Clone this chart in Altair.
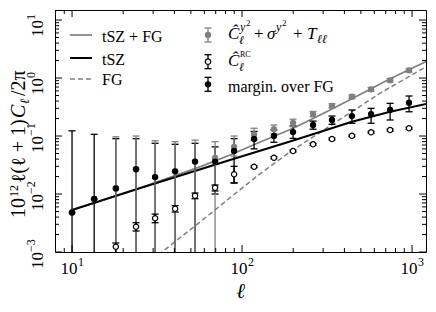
import altair as alt
import pandas as pd

FONT = "Liberation Serif"
W, H = 371, 242

# ---------------- data ----------------
ell = [10, 13.5, 18.1, 23.8, 30.8, 40.4, 52.9, 69.4, 89.8, 117.7, 154, 199.5,
       261.6, 338, 443, 574, 743, 960]

# margin. over FG (black filled)
marg = [0.0048, 0.0082, 0.0125, 0.0267, 0.0196, 0.0246, 0.0363, 0.0363, 0.0552,
        0.0888, 0.100, 0.117, 0.155, 0.189, 0.221, 0.239, 0.281, 0.375]
marg_lo = [1e-4, 1e-4, 1e-4, 1e-4, 1e-4, 1e-4, 1e-4, 0.010, 0.0155,
           0.060, 0.078, 0.091, 0.131, 0.159, 0.166, 0.166, 0.189, 0.262]
marg_hi = [0.123, 0.107, 0.090, 0.090, 0.075, 0.072, 0.075, 0.065, 0.090,
           0.120, 0.128, 0.149, 0.181, 0.221, 0.281, 0.300, 0.366, 0.490]

# C^y2 + sigma + T (gray filled)
tot = [0.0048, 0.0082, 0.0125, 0.0267, 0.0196, 0.0246, 0.0363, 0.0418, 0.065,
       0.107, 0.131, 0.169, 0.239, 0.332, 0.476, 0.638, 0.913, 1.358]
tot_lo = [0.0048, 0.0082, 1e-4, 1e-4, 1e-4, 1e-4, 1e-4, 1e-4, 0.045,
          0.085, 0.110, 0.145, 0.215, 0.305, 0.440, 0.590, 0.850, 1.260]
tot_hi = [0.0048, 0.0082, 0.097, 0.100, 0.083, 0.080, 0.085, 0.080, 0.100,
          0.136, 0.155, 0.195, 0.265, 0.360, 0.510, 0.690, 0.980, 1.460]

# C^RC (open circles)
ell_rc = [18.1, 23.8, 30.8, 40.4, 52.9, 69.4, 89.8, 117.7, 154, 199.5,
          261.6, 338, 443, 574, 743, 960]
rc = [0.00123, 0.00273, 0.00381, 0.00558, 0.00935, 0.0128, 0.0219, 0.0296,
      0.0423, 0.0552, 0.0719, 0.0888, 0.101, 0.116, 0.127, 0.136]
rc_lo = [0.00095, 0.0023, 0.0032, 0.0049, 0.0083, 0.0113, 0.0155, 0.0285,
         0.0407, 0.0531, 0.0692, 0.0855, 0.0973, 0.112, 0.122, 0.131]
rc_hi = [0.00143, 0.0032, 0.0045, 0.0063, 0.0104, 0.0143, 0.030, 0.0307,
         0.0440, 0.0573, 0.0747, 0.0922, 0.105, 0.120, 0.132, 0.141]

# model curves
ell_tsz = [10, 25, 85, 200, 443, 743, 1210]
tsz = [0.0053, 0.0126, 0.0386, 0.0836, 0.176, 0.262, 0.356]
ell_totm = [10, 25, 57, 85, 127, 200, 300, 443, 743, 1210]
totm = [0.0053, 0.0127, 0.0297, 0.0471, 0.0778, 0.136, 0.245, 0.44, 0.975, 1.92]
ell_fg = [25, 33.8, 56.6, 84.6, 127, 191, 329, 650, 1210]
fg = [0.00049, 0.001, 0.00329, 0.00853, 0.0221, 0.053, 0.149, 0.551, 1.57]

# axis ticks
x_major = [10, 100, 1000]
x_major_exp = ["1", "2", "3"]
x_minor = [8, 9, 20, 30, 40, 50, 60, 70, 80, 90, 200, 300, 400, 500, 600, 700, 800, 900]
y_major = [0.001, 0.01, 0.1, 1, 10]
y_major_exp = ["\u22123", "\u22122", "\u22121", "0", "1"]
y_minor = [0.002, 0.003, 0.004, 0.005, 0.006, 0.007, 0.008, 0.009,
           0.02, 0.03, 0.04, 0.05, 0.06, 0.07, 0.08, 0.09,
           0.2, 0.3, 0.4, 0.5, 0.6, 0.7, 0.8, 0.9,
           2, 3, 4, 5, 6, 7, 8, 9]

GRAY = "#808080"

xs = alt.Scale(type="log", domain=[7.94, 1208], nice=False)
ys = alt.Scale(type="log", domain=[1e-3, 14.9], nice=False)


def X(f="ell"):
    return alt.X(f, type="quantitative", scale=xs, axis=None)


def Y(f="v"):
    return alt.Y(f, type="quantitative", scale=ys, axis=None)


def line(xl, yl, color, width, dash=None):
    df = pd.DataFrame({"ell": xl, "v": yl})
    kw = dict(color=color, strokeWidth=width, clip=True)
    if dash:
        kw["strokeDash"] = dash
    return alt.Chart(df).mark_line(**kw).encode(x=X(), y=Y())


def errbars(xl, lo, hi, color):
    df = pd.DataFrame({"ell": xl, "lo": lo, "hi": hi})
    base = alt.Chart(df)
    r = base.mark_rule(color=color, strokeWidth=1.3, clip=True).encode(
        x=X(), y=Y("lo"), y2=alt.Y2("hi"))
    c1 = base.mark_tick(orient="horizontal", size=7, thickness=1.3, color=color,
                        clip=True, opacity=1).encode(x=X(), y=Y("hi"))
    c2 = base.mark_tick(orient="horizontal", size=7, thickness=1.3, color=color,
                        clip=True, opacity=1).encode(x=X(), y=Y("lo"))
    return [r, c1, c2]


def label(txt, x, y, size=16, style="normal", align="left",
          baseline="alphabetic", angle=0, color="black"):
    kw = dict(font=FONT, fontSize=size, fontStyle=style, align=align,
              baseline=baseline, color=color)
    if angle:
        kw["angle"] = angle
    return alt.Chart(pd.DataFrame({"t": [txt]})).mark_text(**kw).encode(
        x=alt.value(x), y=alt.value(y), text="t:N")


layers = []

# model lines
layers.append(line(ell_totm, totm, GRAY, 1.7))
layers.append(line(ell_fg, fg, GRAY, 1.5, [5, 3]))
layers.append(line(ell_tsz, tsz, "black", 2))

# black error bars (under gray)
layers += errbars(ell, marg_lo, marg_hi, "black")
# gray series
layers += errbars(ell, tot_lo, tot_hi, GRAY)
layers.append(alt.Chart(pd.DataFrame({"ell": ell, "v": tot})).mark_circle(
    size=40, color=GRAY, opacity=1, clip=True).encode(x=X(), y=Y()))
# RC open circles
layers += errbars(ell_rc, rc_lo, rc_hi, "black")
layers.append(alt.Chart(pd.DataFrame({"ell": ell_rc, "v": rc})).mark_point(
    shape="circle", size=28, fill="white", filled=True, stroke="black",
    strokeWidth=1.2, opacity=1, clip=True).encode(x=X(), y=Y()))
# black points
layers.append(alt.Chart(pd.DataFrame({"ell": ell, "v": marg})).mark_circle(
    size=40, color="black", opacity=1, clip=True).encode(x=X(), y=Y()))

# ticks (inward, all four sides)
dfxM = pd.DataFrame({"ell": x_major})
dfxm = pd.DataFrame({"ell": x_minor})
dfyM = pd.DataFrame({"v": y_major})
dfym = pd.DataFrame({"v": y_minor})
for df, L in [(dfxM, 7), (dfxm, 4)]:
    layers.append(alt.Chart(df).mark_rule(color="black", strokeWidth=1).encode(
        x=X(), y=alt.value(H), y2=alt.value(H - L)))
    layers.append(alt.Chart(df).mark_rule(color="black", strokeWidth=1).encode(
        x=X(), y=alt.value(0), y2=alt.value(L)))
for df, L in [(dfyM, 7), (dfym, 4)]:
    layers.append(alt.Chart(df).mark_rule(color="black", strokeWidth=1).encode(
        y=Y(), x=alt.value(0), x2=alt.value(L)))
    layers.append(alt.Chart(df).mark_rule(color="black", strokeWidth=1).encode(
        y=Y(), x=alt.value(W), x2=alt.value(W - L)))

# tick labels
dfxl = pd.DataFrame({"ell": x_major, "b": ["10"] * 3, "e": x_major_exp})
layers.append(alt.Chart(dfxl).mark_text(font=FONT, fontSize=17, align="center",
                                        dx=-3, baseline="alphabetic").encode(
    x=X(), y=alt.value(H + 22), text="b:N"))
layers.append(alt.Chart(dfxl).mark_text(font=FONT, fontSize=12, align="left",
                                        dx=6, baseline="alphabetic").encode(
    x=X(), y=alt.value(H + 14), text="e:N"))
dfyl = pd.DataFrame({"v": y_major, "b": ["10"] * 5, "e": y_major_exp})
layers.append(alt.Chart(dfyl).mark_text(font=FONT, fontSize=17, align="right",
                                        angle=270, baseline="alphabetic").encode(
    y=Y(), x=alt.value(-12), text="b:N"))
layers.append(alt.Chart(dfyl).mark_text(font=FONT, fontSize=12, align="left",
                                        angle=270, baseline="alphabetic").encode(
    y=Y(), x=alt.value(-20), text="e:N"))

# axis titles
layers.append(label("\u2113", W / 2, 288, size=21, style="italic", align="center"))
# y title pieces, rotated, reading upwards
TX = -30
TS = 20
layers.append(label("10", TX, 208, TS, angle=270))
layers.append(label("12", TX - 7, 187, 12, angle=270))
layers.append(label("\u2113(\u2113 + 1)", TX, 173, TS, angle=270))
layers.append(label("C", TX, 108, TS, style="italic", angle=270))
layers.append(label("\u2113", TX + 4, 94, 13, style="italic", angle=270))
layers.append(label("/2\u03c0", TX, 86, TS, angle=270))

# legend: left column
layers.append(alt.Chart(pd.DataFrame({"a": [0]})).mark_rule(color=GRAY, strokeWidth=1.7).encode(
    x=alt.value(15), x2=alt.value(37), y=alt.value(25)))
layers.append(alt.Chart(pd.DataFrame({"a": [0]})).mark_rule(color="black", strokeWidth=2).encode(
    x=alt.value(15), x2=alt.value(37), y=alt.value(48)))
layers.append(alt.Chart(pd.DataFrame({"a": [0]})).mark_rule(color=GRAY, strokeWidth=1.5, strokeDash=[5, 3]).encode(
    x=alt.value(15), x2=alt.value(37), y=alt.value(69)))
layers.append(label("tSZ + FG", 47, 32))
layers.append(label("tSZ", 47, 55))
layers.append(label("FG", 47, 75))

# legend: right column markers
def leg_marker(y, color, fill, stroke):
    d = pd.DataFrame({"a": [0]})
    out = [
        alt.Chart(d).mark_rule(color=color, strokeWidth=1.3).encode(
            x=alt.value(153), y=alt.value(y - 7), y2=alt.value(y + 7)),
        alt.Chart(d).mark_rule(color=color, strokeWidth=1.3).encode(
            x=alt.value(149.5), x2=alt.value(156.5), y=alt.value(y - 7)),
        alt.Chart(d).mark_rule(color=color, strokeWidth=1.3).encode(
            x=alt.value(149.5), x2=alt.value(156.5), y=alt.value(y + 7)),
        alt.Chart(d).mark_point(shape="circle", size=30 if fill == "white" else 40,
                                filled=True, fill=fill, stroke=stroke,
                                strokeWidth=1.2 if fill == "white" else 0,
                                opacity=1).encode(x=alt.value(153), y=alt.value(y)),
    ]
    return out


layers += leg_marker(25, GRAY, GRAY, GRAY)
layers += leg_marker(51.7, "black", "white", "black")
layers += leg_marker(74.3, "black", "black", "black")

# legend: right column texts
layers.append(label("\u0108", 173, 29, 17, style="italic"))
layers.append(label("y", 185, 21, 12, style="italic"))
layers.append(label("2", 191, 16, 9))
layers.append(label("\u2113", 184, 34, 12, style="italic"))
layers.append(label("+", 199, 29, 17))
layers.append(label("\u03c3", 212, 29, 17, style="italic"))
layers.append(label("y", 221, 21, 12, style="italic"))
layers.append(label("2", 227, 16, 9))
layers.append(label("+", 238, 29, 17))
layers.append(label("T", 252, 29, 17, style="italic"))
layers.append(label("\u2113\u2113", 262, 33, 12, style="italic"))

layers.append(label("\u0108", 173, 56, 17, style="italic"))
layers.append(label("RC", 185, 47, 8))
layers.append(label("\u2113", 184, 61, 12, style="italic"))

layers.append(label("margin. over FG", 173, 82, 16))

chart = alt.layer(*layers).properties(
    width=W, height=H,
    padding={"left": 47, "top": 2, "right": 2, "bottom": 52},
    autosize=alt.AutoSizeParams(type="none"),
).configure_view(stroke="black", strokeWidth=1)

chart.save("out.html", embed_options={"renderer": "svg", "actions": False})
